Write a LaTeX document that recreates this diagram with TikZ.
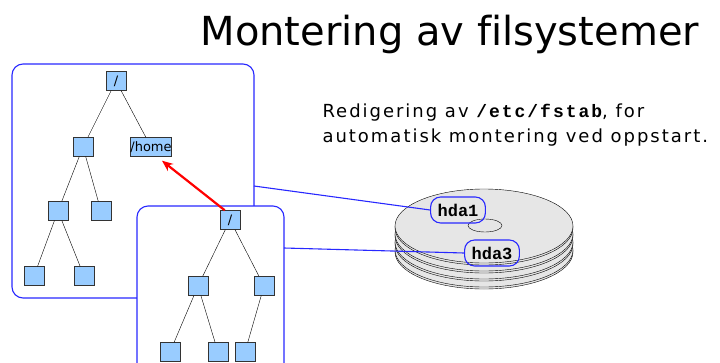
\documentclass[tikz,border=0pt]{standalone}
\usepackage{fontspec}
\usetikzlibrary{arrows.meta}
\setmainfont[Ligatures=NoCommon]{DejaVu Sans}
\newfontfamily\mono{Liberation Mono}
\definecolor{dirblue}{RGB}{153,204,255}
\definecolor{fsblue}{RGB}{40,40,255}
\definecolor{platter}{RGB}{230,230,230}
\tikzset{
  dir/.style={draw=black!80,fill=dirblue,minimum width=20pt,minimum height=19pt,inner sep=0pt,font=\fontsize{13}{13}\selectfont},
  fsbox/.style={draw=fsblue,line width=1.1pt,rounded corners=11pt,fill=white},
  part/.style={draw=fsblue,line width=1.1pt,rounded corners=10pt,minimum height=26pt,inner xsep=7pt,inner ysep=3pt,font=\mono\bfseries\fontsize{17}{17}\selectfont},
  note/.style={anchor=base west,font=\fontsize{18}{18}\selectfont\addfontfeature{LetterSpace=11}}
}
\begin{document}
\begin{tikzpicture}[x=1pt,y=-1pt]
\useasboundingbox (0,0) rectangle (720,362);
\node [anchor=base west,font=\fontsize{40}{40}\selectfont] (title) at (197,45) {Montering av filsystemer};
\node [note] (note1) at (319,117) {Redigering av {\mono\bfseries\addfontfeature{LetterSpace=11}/etc/fstab}, for};
\node [note] (note2) at (319,142) {automatisk montering ved oppstart.};
% disk
\foreach \cy in {250,242,234,226} {
  \filldraw [fill=platter,draw=black] (395,\cy) -- ++(0,2) arc [start angle=180,end angle=360,x radius=89pt,y radius=37pt] -- ++(0,-2) -- cycle;
  \filldraw [fill=platter,draw=black] (484,\cy) ellipse [x radius=89pt,y radius=37pt];
}
\draw (485,225.5) ellipse [x radius=17pt,y radius=6.5pt];
\node [part] (hda1) at (458,210) {hda1};
\node [part] (hda3) at (492,253) {hda3};
% root filesystem
\draw [fsbox] (12,64) rectangle (254,298);
\node [dir] (r1) at (116,81) {/};
\node [dir] (a1) at (83,147) {};
\node [dir,minimum width=41pt] (home) at (151,147) {/home};
\node [dir] (b1) at (58,211) {};
\node [dir] (b2) at (101,211) {};
\node [dir] (c1) at (34,276) {};
\node [dir] (c2) at (84,276) {};
\draw (r1) -- (a1);
\draw (r1) -- (home);
\draw (a1) -- (b1);
\draw (a1) -- (b2);
\draw (b1) -- (c1);
\draw (b1) -- (c2);
% mounted filesystem
\draw [fsbox] (137,206) rectangle (284,380);
\node [dir] (r2) at (230,220) {/};
\node [dir] (d1) at (198,286) {};
\node [dir] (d2) at (264,286) {};
\node [dir] (e1) at (170,352) {};
\node [dir] (e2) at (218,352) {};
\node [dir] (e3) at (245,352) {};
\draw (r2) -- (d1);
\draw (r2) -- (d2);
\draw (d1) -- (e1);
\draw (d1) -- (e2);
\draw (d2) -- (e3);
\draw [red,line width=2.2pt,-{Stealth[length=11pt,width=9pt]}] ([xshift=5pt]r2.north west) -- ([xshift=11pt,yshift=-4pt]home.south);
\coordinate (out1) at (254,186);
\coordinate (out2) at (284,248);
\draw [fsblue,line width=1.1pt] (out1) -- (hda1.west);
\draw [fsblue,line width=1.1pt] (out2) -- (hda3.west);
\end{tikzpicture}
\end{document}
